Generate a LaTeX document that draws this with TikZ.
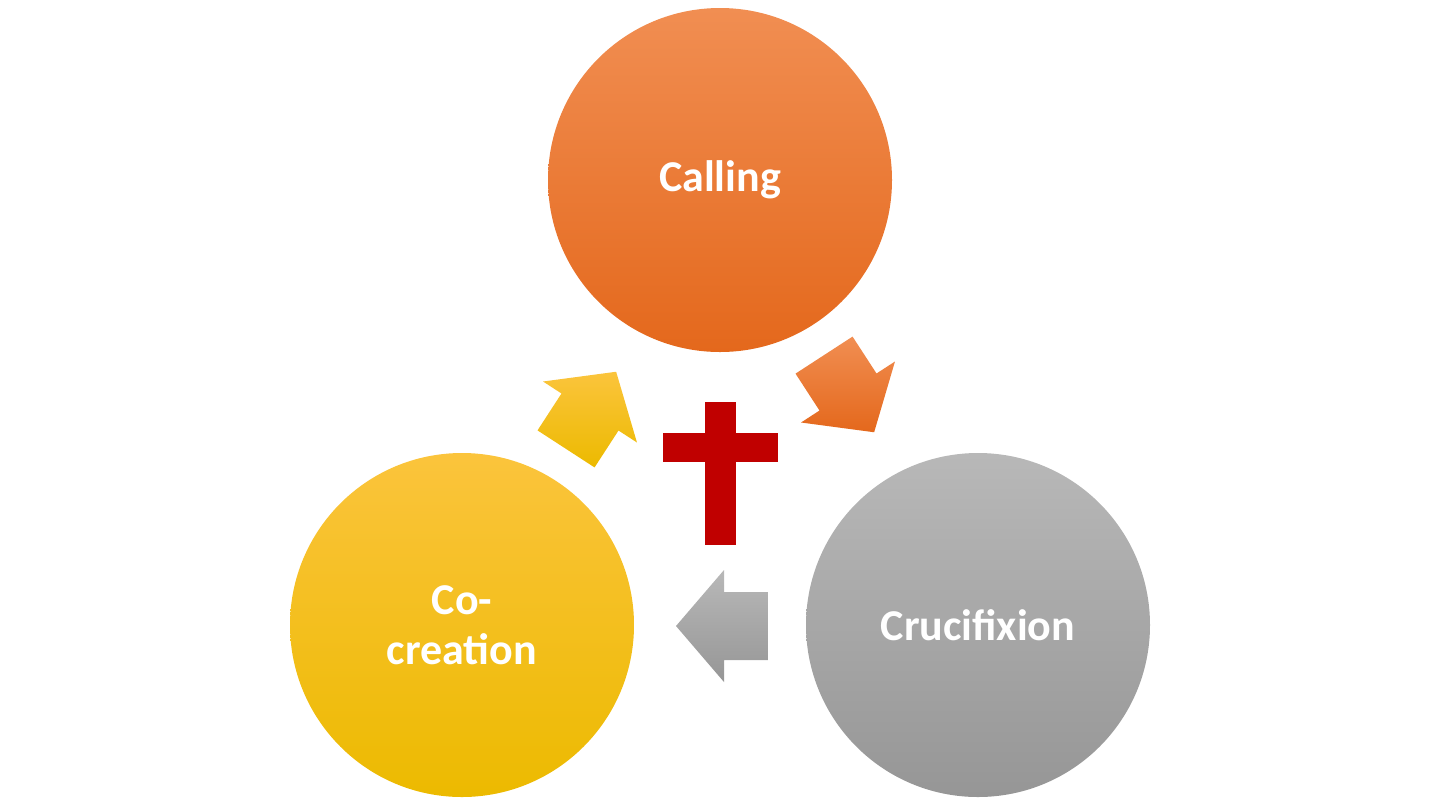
\documentclass[tikz,border=0pt]{standalone}
\usepackage{fontspec}
\setmainfont{Carlito}
\definecolor{orT}{RGB}{241,142,82}
\definecolor{orB}{RGB}{228,104,28}
\definecolor{grT}{RGB}{184,184,184}
\definecolor{grB}{RGB}{150,150,150}
\definecolor{yeT}{RGB}{251,196,60}
\definecolor{yeB}{RGB}{236,186,0}
\definecolor{crossred}{RGB}{192,0,0}
\tikzset{
  lbl/.style={text=white,font=\bfseries\fontsize{22}{25}\selectfont,align=center},
  circ/.style={circle,minimum size=172pt,inner sep=0pt}
}
\newcommand{\blockarrow}[4]{%
  \shade[top color=#3,bottom color=#4,shift={#1},rotate=#2]
   (-22,-17) -- (0,-17) -- (0,-28) -- (24,0) -- (0,28) -- (0,17) -- (-22,17) -- cycle;}
\begin{document}
\begin{tikzpicture}[x=0.5pt,y=-0.5pt]
\useasboundingbox (0,0) rectangle (1440,810);
\node[circ,top color=orT,bottom color=orB] (calling) at (720,180) {};
\node[lbl] at (calling) {Calling};
\node[circ,top color=grT,bottom color=grB] (cruc) at (978,625) {};
\node[lbl] at (cruc) {Crucifixion};
\node[circ,top color=yeT,bottom color=yeB] (cocr) at (462,625) {};
\node[lbl] at (cocr) {Co-\\creation};
\begin{scope}[x=1pt,y=1pt]
\blockarrow{(295pt,-206pt)}{57}{yeT}{yeB}
\blockarrow{(424pt,-196pt)}{-57}{orT}{orB}
\blockarrow{(362pt,-313pt)}{180}{grT}{grB}
\end{scope}
\fill[crossred] (705,402) rectangle (736,545);
\fill[crossred] (663,433) rectangle (778,462);
\end{tikzpicture}
\end{document}
